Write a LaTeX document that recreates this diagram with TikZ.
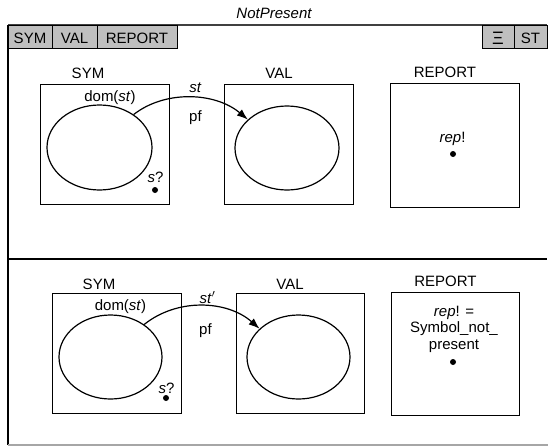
\documentclass[tikz,border=0pt]{standalone}
\usepackage{fontspec}
\setmainfont{Liberation Sans}
\usetikzlibrary{arrows.meta,shapes.geometric}
\begin{document}
\begin{tikzpicture}[x=1pt,y=-1pt,
  every node/.style={font=\fontsize{15}{16.5}\selectfont},
  lbl/.style={inner sep=0pt,anchor=base},
  tab/.style={draw=black,line width=1pt,fill=black!25,inner sep=0pt,anchor=north west,minimum height=23pt},
  setbox/.style={draw=black,line width=1.2pt,inner sep=0pt,anchor=north west},
  setell/.style={draw=black,line width=1.2pt,ellipse,inner sep=0pt},
  dotn/.style={circle,fill=black,inner sep=0pt,minimum size=6pt},
  maparrow/.style={line width=1.2pt,-{Latex[length=11pt,width=8pt]}}]
\useasboundingbox (0,0) rectangle (548,447);
% frame
\coordinate (ftl) at (8,25);
\coordinate (ftr) at (547,25);
\coordinate (fml) at (8,259);
\coordinate (fmr) at (547,259);
\coordinate (fbl) at (8,445);
\coordinate (fbr) at (548,445);
\draw[line width=1.6pt,black!75] (ftl) -- (ftr);
\draw[line width=1.2pt] (ftl) -- (fbl);
\draw[line width=1.2pt] (fml) -- (fmr);
\draw[line width=1.2pt,black!35] (fbl) -- (fbr);
\node[lbl,font=\fontsize{15}{16.5}\selectfont\itshape] (title) at (274,18) {NotPresent};
% tabs
\node[tab,minimum width=44pt] (tsym) at (8,25) {};
\node[lbl] (tsymt) at (30,43) {SYM};
\node[tab,minimum width=45pt] (tval) at (52,25) {};
\node[lbl] (tvalt) at (74.5,43) {VAL};
\node[tab,minimum width=80pt] (trep) at (97,25) {};
\node[lbl] (trept) at (137,43) {REPORT};
\node[tab,minimum width=32pt] (txi) at (482,25) {};
\node[lbl,font=\fontsize{18}{20}\selectfont] (txit) at (498,44) {Ξ};
\node[tab,minimum width=33pt] (tst) at (514,25) {};
\node[lbl] (tstt) at (530.5,43) {ST};
% top panel
\node[lbl] (lsym1) at (88,78) {SYM};
\node[lbl] (lval1) at (279,78) {VAL};
\node[lbl] (lrep1) at (445,77.5) {REPORT};
\node[setbox,minimum width=129pt,minimum height=120pt] (sym1) at (40,84) {};
\node[setbox,minimum width=129pt,minimum height=120pt] (val1) at (224,84) {};
\node[setbox,minimum width=129pt,minimum height=124pt] (rep1) at (390,83) {};
\node[setell,minimum width=105pt,minimum height=85pt] (e1) at (99.5,147.5) {};
\node[setell,minimum width=104pt,minimum height=84pt] (f1) at (287,148) {};
\node[lbl] (dom1) at (110,101) {dom(\textit{st})};
\node[lbl] (st1) at (195.5,92) {\textit{st}};
\node[lbl] (pf1) at (195.5,121) {pf};
\node[lbl] (s1) at (155.5,182) {\textit{s}?};
\node[dotn] (sd1) at (155,190) {};
\node[lbl] (r1) at (452.5,142) {\textit{rep}!};
\node[dotn] (rd1) at (453,154) {};
\draw[maparrow] (e1.44) .. controls (165,90) and (215,92) .. (f1.144);
% bottom panel
\node[lbl] (lsym2) at (99,289) {SYM};
\node[lbl] (lval2) at (290,289) {VAL};
\node[lbl] (lrep2) at (445.5,286) {REPORT};
\node[setbox,minimum width=129pt,minimum height=120pt] (sym2) at (52,293) {};
\node[setbox,minimum width=128pt,minimum height=120pt] (val2) at (236,293) {};
\node[setbox,minimum width=128pt,minimum height=123pt] (rep2) at (391,292) {};
\node[setell,minimum width=103pt,minimum height=84pt] (e2) at (110.5,357) {};
\node[setell,minimum width=103pt,minimum height=84pt] (f2) at (298.5,357) {};
\node[lbl] (dom2) at (120.5,310) {dom(\textit{st})};
\node[lbl] (st2) at (207.5,303) {\textit{st}$'$};
\node[lbl] (pf2) at (205.5,334) {pf};
\node[lbl] (s2) at (166.5,393) {\textit{s}?};
\node[dotn] (sd2) at (166,398) {};
\node[inner sep=0pt,align=center,anchor=base] (r2) at (454,349) {\textit{rep}! =\\Symbol\_not\_\\present};
\node[dotn] (rd2) at (453,362) {};
\draw[maparrow] (e2.44) .. controls (177,298) and (227,300) .. (f2.144);
\end{tikzpicture}
\end{document}
